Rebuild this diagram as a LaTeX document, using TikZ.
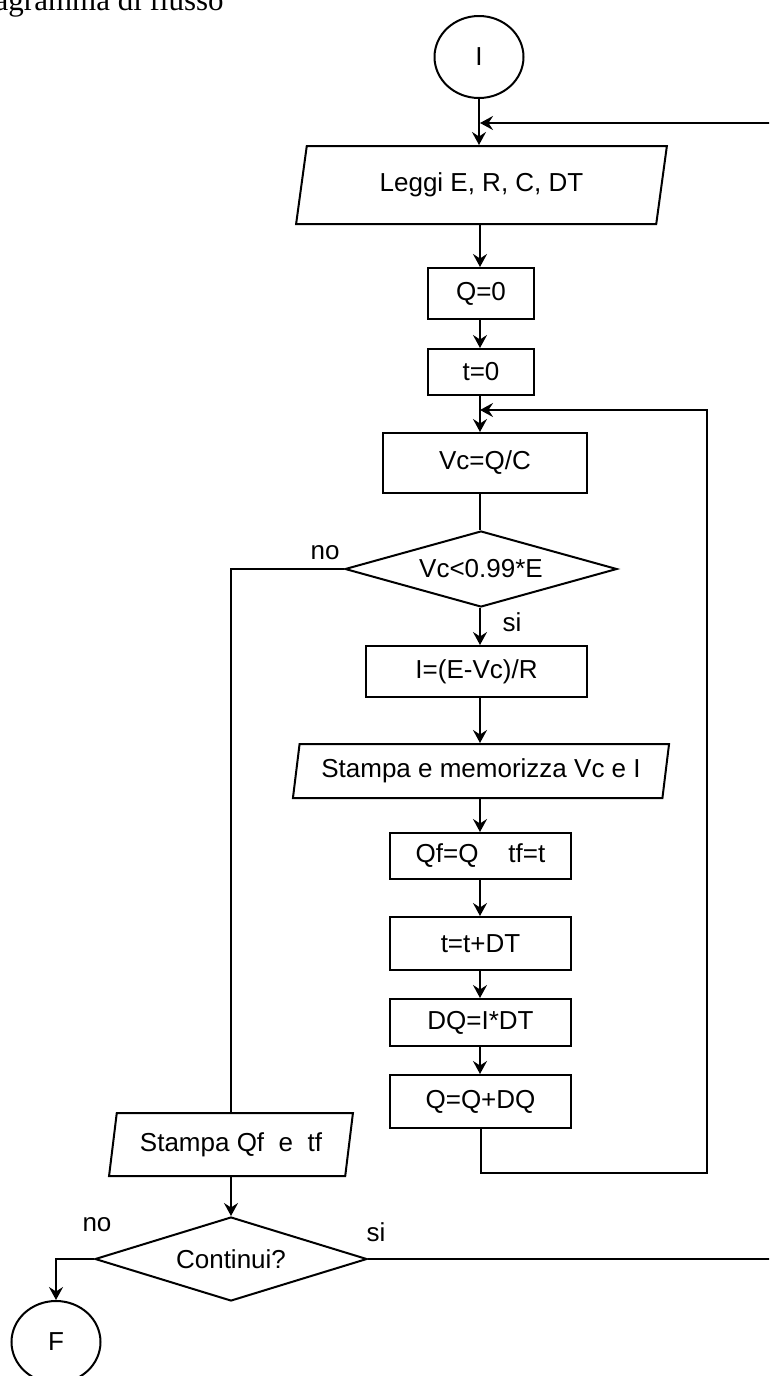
\documentclass[tikz,border=0pt]{standalone}
\usepackage{fontspec}
\setmainfont{Liberation Sans}
\newfontfamily\headfont{Liberation Serif}
\usetikzlibrary{shapes.geometric,arrows.meta}
\begin{document}
\begin{tikzpicture}[x=1pt,y=-1pt,line width=2pt,
  every node/.style={font=\fontsize{26}{30}\selectfont},
  arr/.style={-{Stealth[length=13pt,width=14pt,inset=4.5pt]}},
  proc/.style={draw,rectangle,inner sep=0pt},
  terminal/.style={draw,ellipse,inner sep=0pt,minimum width=89pt,minimum height=82pt},
  decision/.style={draw,diamond,inner sep=0pt},
  iobox/.style={draw,trapezium,trapezium stretches=true,inner sep=0pt}]
\useasboundingbox (0,0) rectangle (769,1376);
\clip (0,0) rectangle (769,1376);

% heading
\node[font=\headfont\fontsize{31}{36}\selectfont,anchor=base east] (title) at (228,10) {Diagramma di flusso};

% main column
\coordinate (col) at (480,0);
\node[terminal] (start) at (479,57) {I};
\coordinate (j1) at (480,123);
\node[iobox,trapezium left angle=75.62,trapezium right angle=104.38,
      minimum width=371pt,minimum height=78pt] (leggi) at (481.5,185) {Leggi E, R, C, DT};
\node[proc,minimum width=106pt,minimum height=51pt] (q0) at (481,293.5) {Q=0};
\node[proc,minimum width=106pt,minimum height=46pt] (t0) at (481,372) {t=0};
\coordinate (j2) at (480,410);
\node[proc,minimum width=204pt,minimum height=60pt] (vc) at (485,463) {Vc=Q/C};
\node[decision,aspect=3.58,minimum width=272pt,minimum height=76pt] (test) at (481,569) {Vc<0.99*E};
\node (no1) at (325,553) {no};
\node (si1) at (512,622) {si};
\node[proc,minimum width=221pt,minimum height=51pt] (curr) at (476.5,671.5) {I=(E-Vc)/R};
\node[iobox,trapezium left angle=76.46,trapezium right angle=103.54,
      minimum width=378pt,minimum height=54pt] (stm) at (481,771) {Stampa e memorizza Vc e I};
\node[proc,minimum width=181pt,minimum height=46pt] (qf) at (480.5,856) {Qf=Q\hspace{30pt}tf=t};
\node[proc,minimum width=181pt,minimum height=53pt] (tt) at (480.5,943.5) {t=t+DT};
\node[proc,minimum width=181pt,minimum height=47pt] (dq) at (480.5,1022.5) {DQ=I*DT};
\node[proc,minimum width=181pt,minimum height=53pt] (qq) at (480.5,1101.5) {Q=Q+DQ};
\coordinate (lb) at (707,1173);

% exit branch
\node[iobox,trapezium left angle=75.75,trapezium right angle=104.25,
      minimum width=244pt,minimum height=63pt] (sqf) at (231,1144.5) {Stampa Qf\ \ e\ \ tf};
\node[decision,aspect=3.24,minimum width=272pt,minimum height=84pt] (cont) at (231,1259) {Continui?};
\node (no2) at (97,1225) {no};
\node (si2) at (376,1232) {si};
\node[terminal] (stop) at (56,1342) {F};
\coordinate (rc) at (772,123);

% connectors
\draw[arr] (start.south) -- (start.south |- leggi.north);
\draw[arr] (col |- leggi.south) -- (col |- q0.north);
\draw[arr] (col |- q0.south) -- (col |- t0.north);
\draw[arr] (col |- t0.south) -- (col |- vc.north);
\draw (col |- vc.south) -- (col |- test.north);
\draw[arr] (col |- test.south) -- (col |- curr.north);
\draw[arr] (col |- curr.south) -- (col |- stm.north);
\draw[arr] (col |- stm.south) -- (col |- qf.north);
\draw[arr] (col |- qf.south) -- (col |- tt.north);
\draw[arr] (col |- tt.south) -- (col |- dq.north);
\draw[arr] (col |- dq.south) -- (col |- qq.north);
\draw[arr] (qq.south) |- (lb) |- (j2);
\draw (test.west) -| (cont.north |- sqf.north);
\draw[arr] (cont.north |- sqf.south) -- (cont.north);
\draw[arr] (cont.west) -| (stop.north);
\draw[arr] (cont.east) -| (rc) -- (j1);
\end{tikzpicture}
\end{document}
